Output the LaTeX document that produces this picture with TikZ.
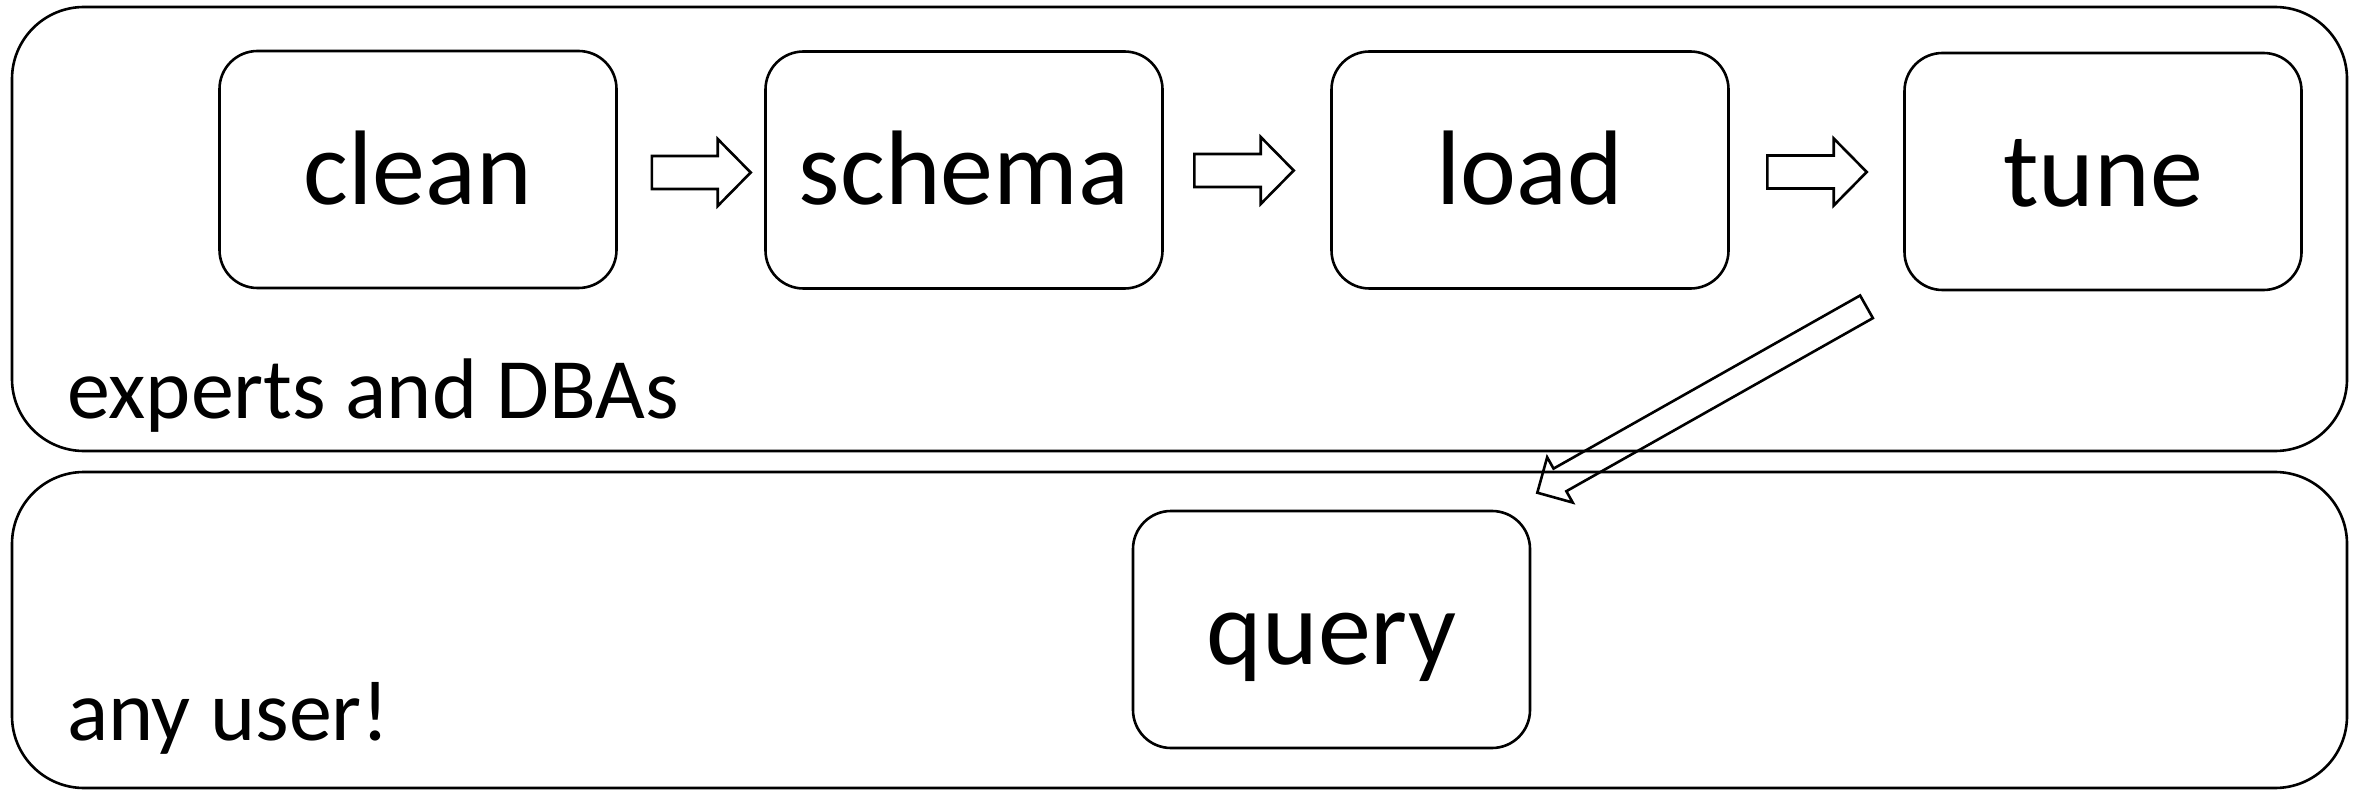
\documentclass[tikz,border=0pt]{standalone}
\usepackage{fontspec}
\setmainfont{Carlito}
\usetikzlibrary{calc}
\tikzset{
  stage/.style={draw, line width=2.6pt, rounded corners=38pt, minimum width=397pt,
    minimum height=237pt, inner sep=0pt, text height=80pt, text depth=10pt,
    font=\fontsize{106}{114}\selectfont},
  lane/.style={draw, line width=2.6pt, rounded corners=72pt},
  lanelabel/.style={anchor=base west, inner sep=0pt, font=\fontsize{86}{96}\selectfont},
  blockarrow/.style={draw, line width=2.6pt, line join=miter}
}
% block arrow from coordinate #1 to coordinate #2; half shaft #3, half head #4, head length #5
\newcommand{\blockarr}[5]{%
  \coordinate (#1H) at ($(#2)!#5!(#1)$);
  \draw[blockarrow] ($(#1)!#3!90:(#2)$) -- ($(#1H)!#3!-90:(#1)$) -- ($(#1H)!#4!-90:(#1)$)
    -- (#2) -- ($(#1H)!#4!90:(#1)$) -- ($(#1H)!#3!90:(#1)$) -- ($(#1)!#3!-90:(#2)$) -- cycle;
}
\begin{document}
\begin{tikzpicture}[x=1pt, y=-1pt]
  \useasboundingbox (0,0) rectangle (2359,791);
  % lanes
  \draw[lane] (12,7) rectangle (2347,451);
  \draw[lane] (12,472) rectangle (2347,788);
  \node[lanelabel] (experts) at (67,419) {experts and DBAs};
  \node[lanelabel] (anyuser) at (67,740) {any user!};
  % stages
  \node[stage] (clean)  at (418,169.5) {clean};
  \node[stage] (schema) at (964,170) {schema};
  \node[stage] (load)   at (1530,170) {load};
  \node[stage] (tune)   at (2103,171.5) {tune};
  \node[stage] (query)  at (1331.5,629.5) {query};
  % connector end points
  \coordinate (s1) at ($(clean.east)+(34,3)$);
  \coordinate (e1) at ($(schema.west)+(-13.5,2.5)$);
  \coordinate (s2) at ($(schema.east)+(30.5,0.5)$);
  \coordinate (e2) at ($(load.west)+(-36.5,0.5)$);
  \coordinate (s3) at ($(load.east)+(37.5,2)$);
  \coordinate (e3) at ($(tune.west)+(-36.5,0.5)$);
  \coordinate (s4) at ($(tune.south)+(-236.5,15.5)$);
  \coordinate (e4) at ($(query.north east)+(6,-17)$);
  \blockarr{s1}{e1}{16.5pt}{33.5pt}{33pt}
  \blockarr{s2}{e2}{16.5pt}{33.5pt}{33pt}
  \blockarr{s3}{e3}{16.5pt}{33.5pt}{33pt}
  \blockarr{s4}{e4}{13pt}{26pt}{26pt}
\end{tikzpicture}
\end{document}
